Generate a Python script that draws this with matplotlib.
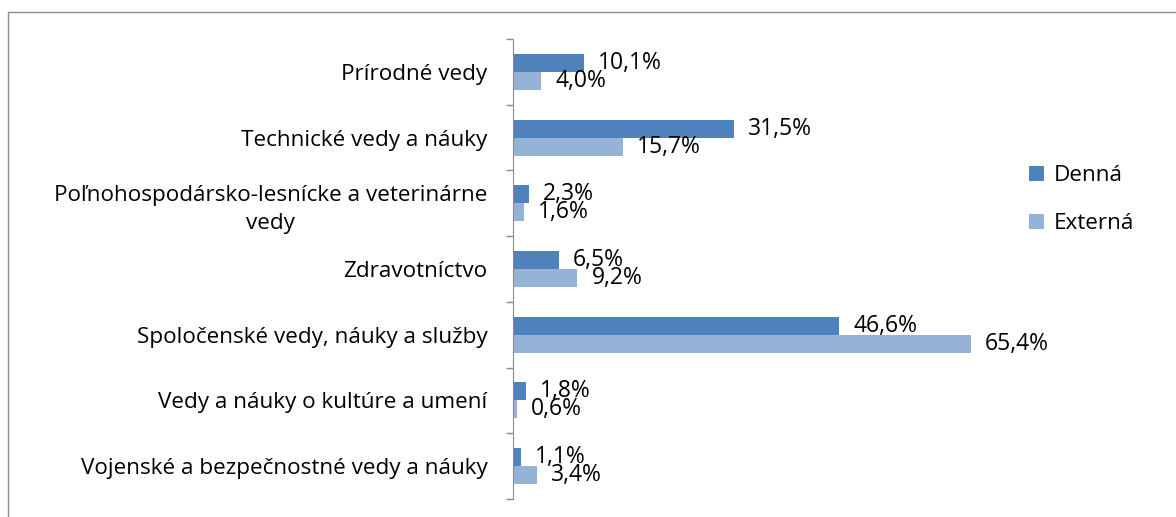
import matplotlib
matplotlib.use("Agg")
import matplotlib.pyplot as plt
from matplotlib.patches import Rectangle
import numpy as np

categories = [
    "Prírodné vedy",
    "Technické vedy a náuky",
    "Poľnohospodársko-lesnícke a veterinárne\nvedy",
    "Zdravotníctvo",
    "Spoločenské vedy, náuky a služby",
    "Vedy a náuky o kultúre a umení",
    "Vojenské a bezpečnostné vedy a náuky",
]
denna = [10.1, 31.5, 2.3, 6.5, 46.6, 1.8, 1.1]
externa = [4.0, 15.7, 1.6, 9.2, 65.4, 0.6, 3.4]
series_names = ["Denná", "Externá"]
colors = ["#4F81BD", "#95B3D7"]

plt.rcParams['font.family'] = ['Open Sans', 'DejaVu Sans']
FS = 16.2
FSV = 16.5

fig = plt.figure(figsize=(11.76, 5.17), dpi=100)
# outer chart frame
fig.patches.append(Rectangle((8/1176, -0.1), 1.2, 1 - 12/517 + 0.1, transform=fig.transFigure,
                             fill=False, edgecolor="#8c8c8c", linewidth=1.0))
ax = fig.add_axes([513/1176, 1 - 499/517, (1003 - 513)/1176, 460/517])

y = np.arange(len(categories))
h = 0.274
b1 = ax.barh(y - h/2, denna, height=h, color=colors[0], label=series_names[0])
b2 = ax.barh(y + h/2, externa, height=h, color=colors[1], label=series_names[1])

def fmt(v):
    return f"{v:.1f}%".replace(".", ",")

for bars, vals in ((b1, denna), (b2, externa)):
    for rect, v in zip(bars, vals):
        ax.annotate(fmt(v), (rect.get_width(), rect.get_y() + rect.get_height()/2),
                    xytext=(14, 0), textcoords="offset pixels",
                    va="center", ha="left", fontsize=FSV, color="black")

ax.set_xlim(0, 70)
ax.set_ylim(len(categories) - 0.5, -0.5)
ax.set_yticks(y)
ax.set_yticklabels(categories, fontsize=FS, multialignment="center", linespacing=1.45)
ax.set_yticks(np.arange(-0.5, len(categories)), minor=True)
ax.tick_params(axis="y", which="major", length=0, pad=18.5)
ax.tick_params(axis="y", which="minor", length=5, color="#8c8c8c", width=1)
ax.set_xticks([])
for s in ("top", "right", "bottom"):
    ax.spines[s].set_visible(False)
ax.spines["left"].set_color("#8c8c8c")

leg = fig.legend(handles=[b1, b2], labels=series_names, loc="upper left",
                 bbox_to_anchor=(1009/1176, 1 - 145/517), frameon=False, fontsize=FS,
                 handlelength=0.65, handleheight=0.65, handletextpad=0.45, labelspacing=1.2)

fig.savefig("out.png", dpi=100)
